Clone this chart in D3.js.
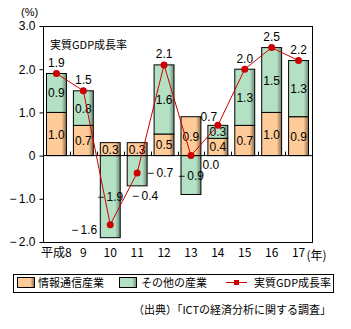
<!DOCTYPE html>
<html>
<head>
<meta charset="utf-8">
<script src="https://cdn.jsdelivr.net/npm/d3@7"></script>
<style>
  body { margin: 0; background: #fff; }
  text { font-family: "Noto Sans CJK JP", sans-serif; font-size: 11px; fill: #000; }
  .num { font-family: "Liberation Sans", Arial, sans-serif; font-size: 12px; }
</style>
</head>
<body>
<div id="chart"></div>
<script>
// years (平成)
const years = ['平成8', '9', '10', '11', '12', '13', '14', '15', '16', '17'];
const ictValues = [1.0, 0.7, 0.3, 0.3, 0.5, 0.9, 0.4, 0.7, 1.0, 0.9];
const otherValues = [0.9, 0.8, -1.9, -0.7, 1.6, -0.9, 0.3, 1.3, 1.5, 1.3];
const gdpValues = [1.9, 1.5, -1.6, -0.4, 2.1, 0.0, 0.7, 2.0, 2.5, 2.2];
const yTicks = [-2, -1, 0, 1, 2, 3];

const width = 351, height = 329;
const margin = { left: 43, right: 39, top: 26, bottom: 87 };

const svg = d3.select('#chart').append('svg')
  .attr('width', width)
  .attr('height', height);

const fmt = v => v < 0 ? '−\u2009' + Math.abs(v).toFixed(1) : v.toFixed(1);

const defs = svg.append('defs');
function grad(id, light, dark) {
  const g = defs.append('linearGradient').attr('id', id).attr('x1', 0).attr('x2', 1).attr('y1', 0).attr('y2', 0);
  g.append('stop').attr('offset', '0%').attr('stop-color', light);
  g.append('stop').attr('offset', '75%').attr('stop-color', light);
  g.append('stop').attr('offset', '100%').attr('stop-color', dark);
}
grad('gIct', '#FFCC99', '#8C6A48');
grad('gOther', '#B4E1C4', '#6C8C78');

const x = d3.scaleBand().domain(years)
  .range([margin.left, width - margin.right]).paddingInner(0.26).paddingOuter(0.13);
const y = d3.scaleLinear().domain([-2, 3]).range([height - margin.bottom, margin.top]);

// plot frame
svg.append('rect')
  .attr('x', margin.left + 0.5).attr('y', margin.top + 0.5)
  .attr('width', width - margin.left - margin.right)
  .attr('height', y(-2) - y(3))
  .attr('fill', 'none').attr('stroke', '#000');

// y axis
const yAxis = svg.append('g').attr('transform', `translate(${margin.left + 0.5},0)`)
  .call(d3.axisLeft(y).tickValues(yTicks).tickSize(4).tickPadding(4)
    .tickFormat(d => d === 0 ? '0' : fmt(d)));
yAxis.select('.domain').remove();
yAxis.selectAll('text').attr('class', 'num');

svg.append('text').attr('x', 21).attr('y', 16).attr('class', 'num').style('font-size', '11px').text('(%)');

// bars
const stack = years.map((yr, i) => ({ yr, ict: ictValues[i], other: otherValues[i], gdp: gdpValues[i] }));
const cxOf = d => x(d.yr) + x.bandwidth() / 2;

stack.forEach(d => {
  const ictTop = d.ict;
  const oBase = d.other >= 0 ? d.ict : 0;
  const oTop = oBase + d.other;
  svg.append('rect')
    .attr('x', x(d.yr)).attr('width', x.bandwidth())
    .attr('y', y(Math.max(0, ictTop))).attr('height', Math.abs(y(0) - y(ictTop)))
    .attr('fill', 'url(#gIct)').attr('stroke', '#000');
  svg.append('rect')
    .attr('x', x(d.yr)).attr('width', x.bandwidth())
    .attr('y', y(Math.max(oBase, oTop))).attr('height', Math.abs(y(oBase) - y(oTop)))
    .attr('fill', 'url(#gOther)').attr('stroke', '#000');
  const cx = cxOf(d);
  svg.append('text').attr('class', 'num').attr('x', cx).attr('y', y(ictTop / 2) + 4.5)
    .attr('text-anchor', 'middle').text(fmt(d.ict));
  // year 11: other-industry label sits right of the bar, at the point
  let ox = cx, oy = y((oBase + oTop) / 2) + 4.5;
  if (d.yr === '11') { ox = cx + 23; oy = y(d.gdp) + 4.5; }
  svg.append('text').attr('class', 'num').attr('x', ox).attr('y', oy)
    .attr('text-anchor', 'middle').text(fmt(d.other));
});

// x ticks at zero line, pointing up
const step = x.step();
for (let i = 1; i < years.length; i++) {
  const tx = Math.round(margin.left + x.paddingOuter() * step + i * step - x.paddingInner() * step / 2) + 0.5;
  svg.append('line').attr('x1', tx).attr('x2', tx).attr('y1', y(0)).attr('y2', y(0) - 4).attr('stroke', '#000');
}
svg.append('line').attr('x1', margin.left).attr('x2', width - margin.right)
  .attr('y1', y(0)).attr('y2', y(0)).attr('stroke', '#000');

// x labels
const xAxis = svg.append('g').attr('transform', `translate(0,${y(-2)})`)
  .call(d3.axisBottom(x).tickSize(0).tickPadding(6));
xAxis.select('.domain').remove();
xAxis.selectAll('text').style('font-size', '12px');
svg.append('text').attr('x', x('17') + x.bandwidth() / 2 + 8).attr('y', y(-2) + 18)
  .style('font-size', '12px').text('(年)');

// GDP line
svg.append('path').datum(stack)
  .attr('d', d3.line().x(cxOf).y(d => y(d.gdp)))
  .attr('fill', 'none').attr('stroke', '#CC0000').attr('stroke-width', 1);
svg.selectAll('.pt').data(stack).enter().append('circle')
  .attr('cx', cxOf).attr('cy', d => y(d.gdp)).attr('r', 3.5).attr('fill', '#CC0000');

// GDP labels (offsets of label centre, as placed in the source chart)
const gdpLabelOffset = {
  '10': [-26, 5], '11': [8, 23], '13': [20, 9], '14': [-9, -9]
};
stack.forEach(d => {
  let dx = 0, dy = -11;
  if (gdpLabelOffset[d.yr]) [dx, dy] = gdpLabelOffset[d.yr];
  svg.append('text').attr('class', 'num').attr('x', cxOf(d) + dx).attr('y', y(d.gdp) + dy + 4.5)
    .attr('text-anchor', 'middle').text(fmt(d.gdp));
});

svg.append('text').attr('x', 50).attr('y', 49).text('実質GDP成長率');

// legend
const lg = svg.append('g');
lg.append('rect').attr('x', 13.5).attr('y', 274.5).attr('width', 320).attr('height', 18)
  .attr('fill', '#fff').attr('stroke', '#000');
lg.append('rect').attr('x', 17.5).attr('y', 277.5).attr('width', 17).attr('height', 10)
  .attr('fill', 'url(#gIct)').attr('stroke', '#000');
lg.append('text').attr('x', 38).attr('y', 287).text('情報通信産業');
lg.append('rect').attr('x', 119.5).attr('y', 277.5).attr('width', 17).attr('height', 10)
  .attr('fill', 'url(#gOther)').attr('stroke', '#000');
lg.append('text').attr('x', 141).attr('y', 287).text('その他の産業');
lg.append('line').attr('x1', 226).attr('x2', 247).attr('y1', 282.5).attr('y2', 282.5)
  .attr('stroke', '#CC0000');
lg.append('rect').attr('x', 234).attr('y', 280).attr('width', 5).attr('height', 5).attr('fill', '#CC0000');
lg.append('text').attr('x', 254).attr('y', 287).text('実質GDP成長率');

svg.append('text').attr('x', 331).attr('y', 314).attr('text-anchor', 'end')
  .text('（出典）「ICTの経済分析に関する調査」');
</script>
</body>
</html>
